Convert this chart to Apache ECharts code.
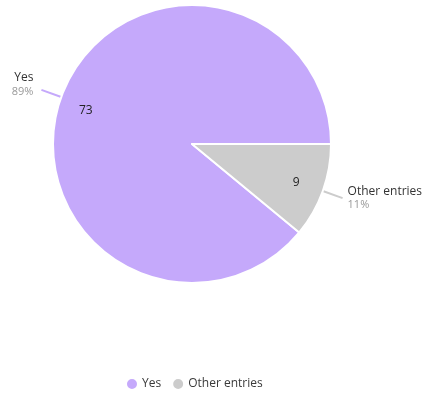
<!DOCTYPE html>
<html>
<head>
<meta charset="utf-8">
<script src="https://cdn.jsdelivr.net/npm/echarts@6/dist/echarts.min.js"></script>
<style>
  html, body { margin: 0; padding: 0; background: #fff; }
  #chart { width: 425px; height: 394px; }
</style>
</head>
<body>
<div id="chart"></div>
<script>
// Answer counts
const categories = ['Yes', 'Other entries'];
const counts = [73, 9];
const colors = ['#c5a9fb', '#cccccc'];

const FONT = '"Open Sans", "Noto Sans", sans-serif';
const CENTER = [192, 144];
const RADIUS = 139;

const sliceData = categories.map((name, i) => ({
  name,
  value: counts[i],
  itemStyle: { color: colors[i] },
  labelLine: { lineStyle: { color: colors[i], width: 2 } },
  // the left-hand label sits a little above and away from its leader line
  label: i === 0 ? { padding: [0, 3, 10, 0] } : {}
}));

const chart = echarts.init(document.getElementById('chart'), null, { renderer: 'canvas' });

chart.setOption({
  animation: false,
  textStyle: { fontFamily: FONT },
  legend: {
    data: categories,
    top: 372,
    left: 120,
    icon: 'circle',
    itemWidth: 12,
    itemHeight: 12,
    itemGap: 10,
    textStyle: { fontFamily: FONT, fontSize: 12, color: '#3a3a3a', padding: [0, 0, 0, -1] }
  },
  series: [
    {
      // slices with outside name / percentage labels
      type: 'pie',
      center: CENTER,
      radius: RADIUS,
      startAngle: 0,
      clockwise: false,
      percentPrecision: 0,
      itemStyle: { borderColor: '#fff', borderWidth: 2 },
      label: {
        position: 'outside',
        distanceToLabelLine: 5,
        overflow: 'none',
        formatter: '{n|{b}}\n{p|{d}%}',
        rich: {
          n: { fontFamily: FONT, fontSize: 12, color: '#333', lineHeight: 14 },
          p: { fontFamily: FONT, fontSize: 11, color: '#999', lineHeight: 14 }
        }
      },
      labelLine: { show: true, length: 21, length2: 0, smooth: false },
      emphasis: { disabled: true },
      data: sliceData
    },
    {
      // transparent ring carrying the count labels
      type: 'pie',
      center: CENTER,
      radius: [RADIUS * 0.58, RADIUS],
      startAngle: 0,
      clockwise: false,
      silent: true,
      itemStyle: { color: 'rgba(0,0,0,0)' },
      label: {
        position: 'inside',
        formatter: '{c}',
        fontFamily: FONT,
        fontSize: 12,
        color: '#222'
      },
      labelLine: { show: false },
      emphasis: { disabled: true },
      data: categories.map((name, i) => ({
        name,
        value: counts[i],
        label: i === 0 ? { offset: [0, 5] } : { offset: [-2, 0] }
      }))
    }
  ]
});
</script>
</body>
</html>
